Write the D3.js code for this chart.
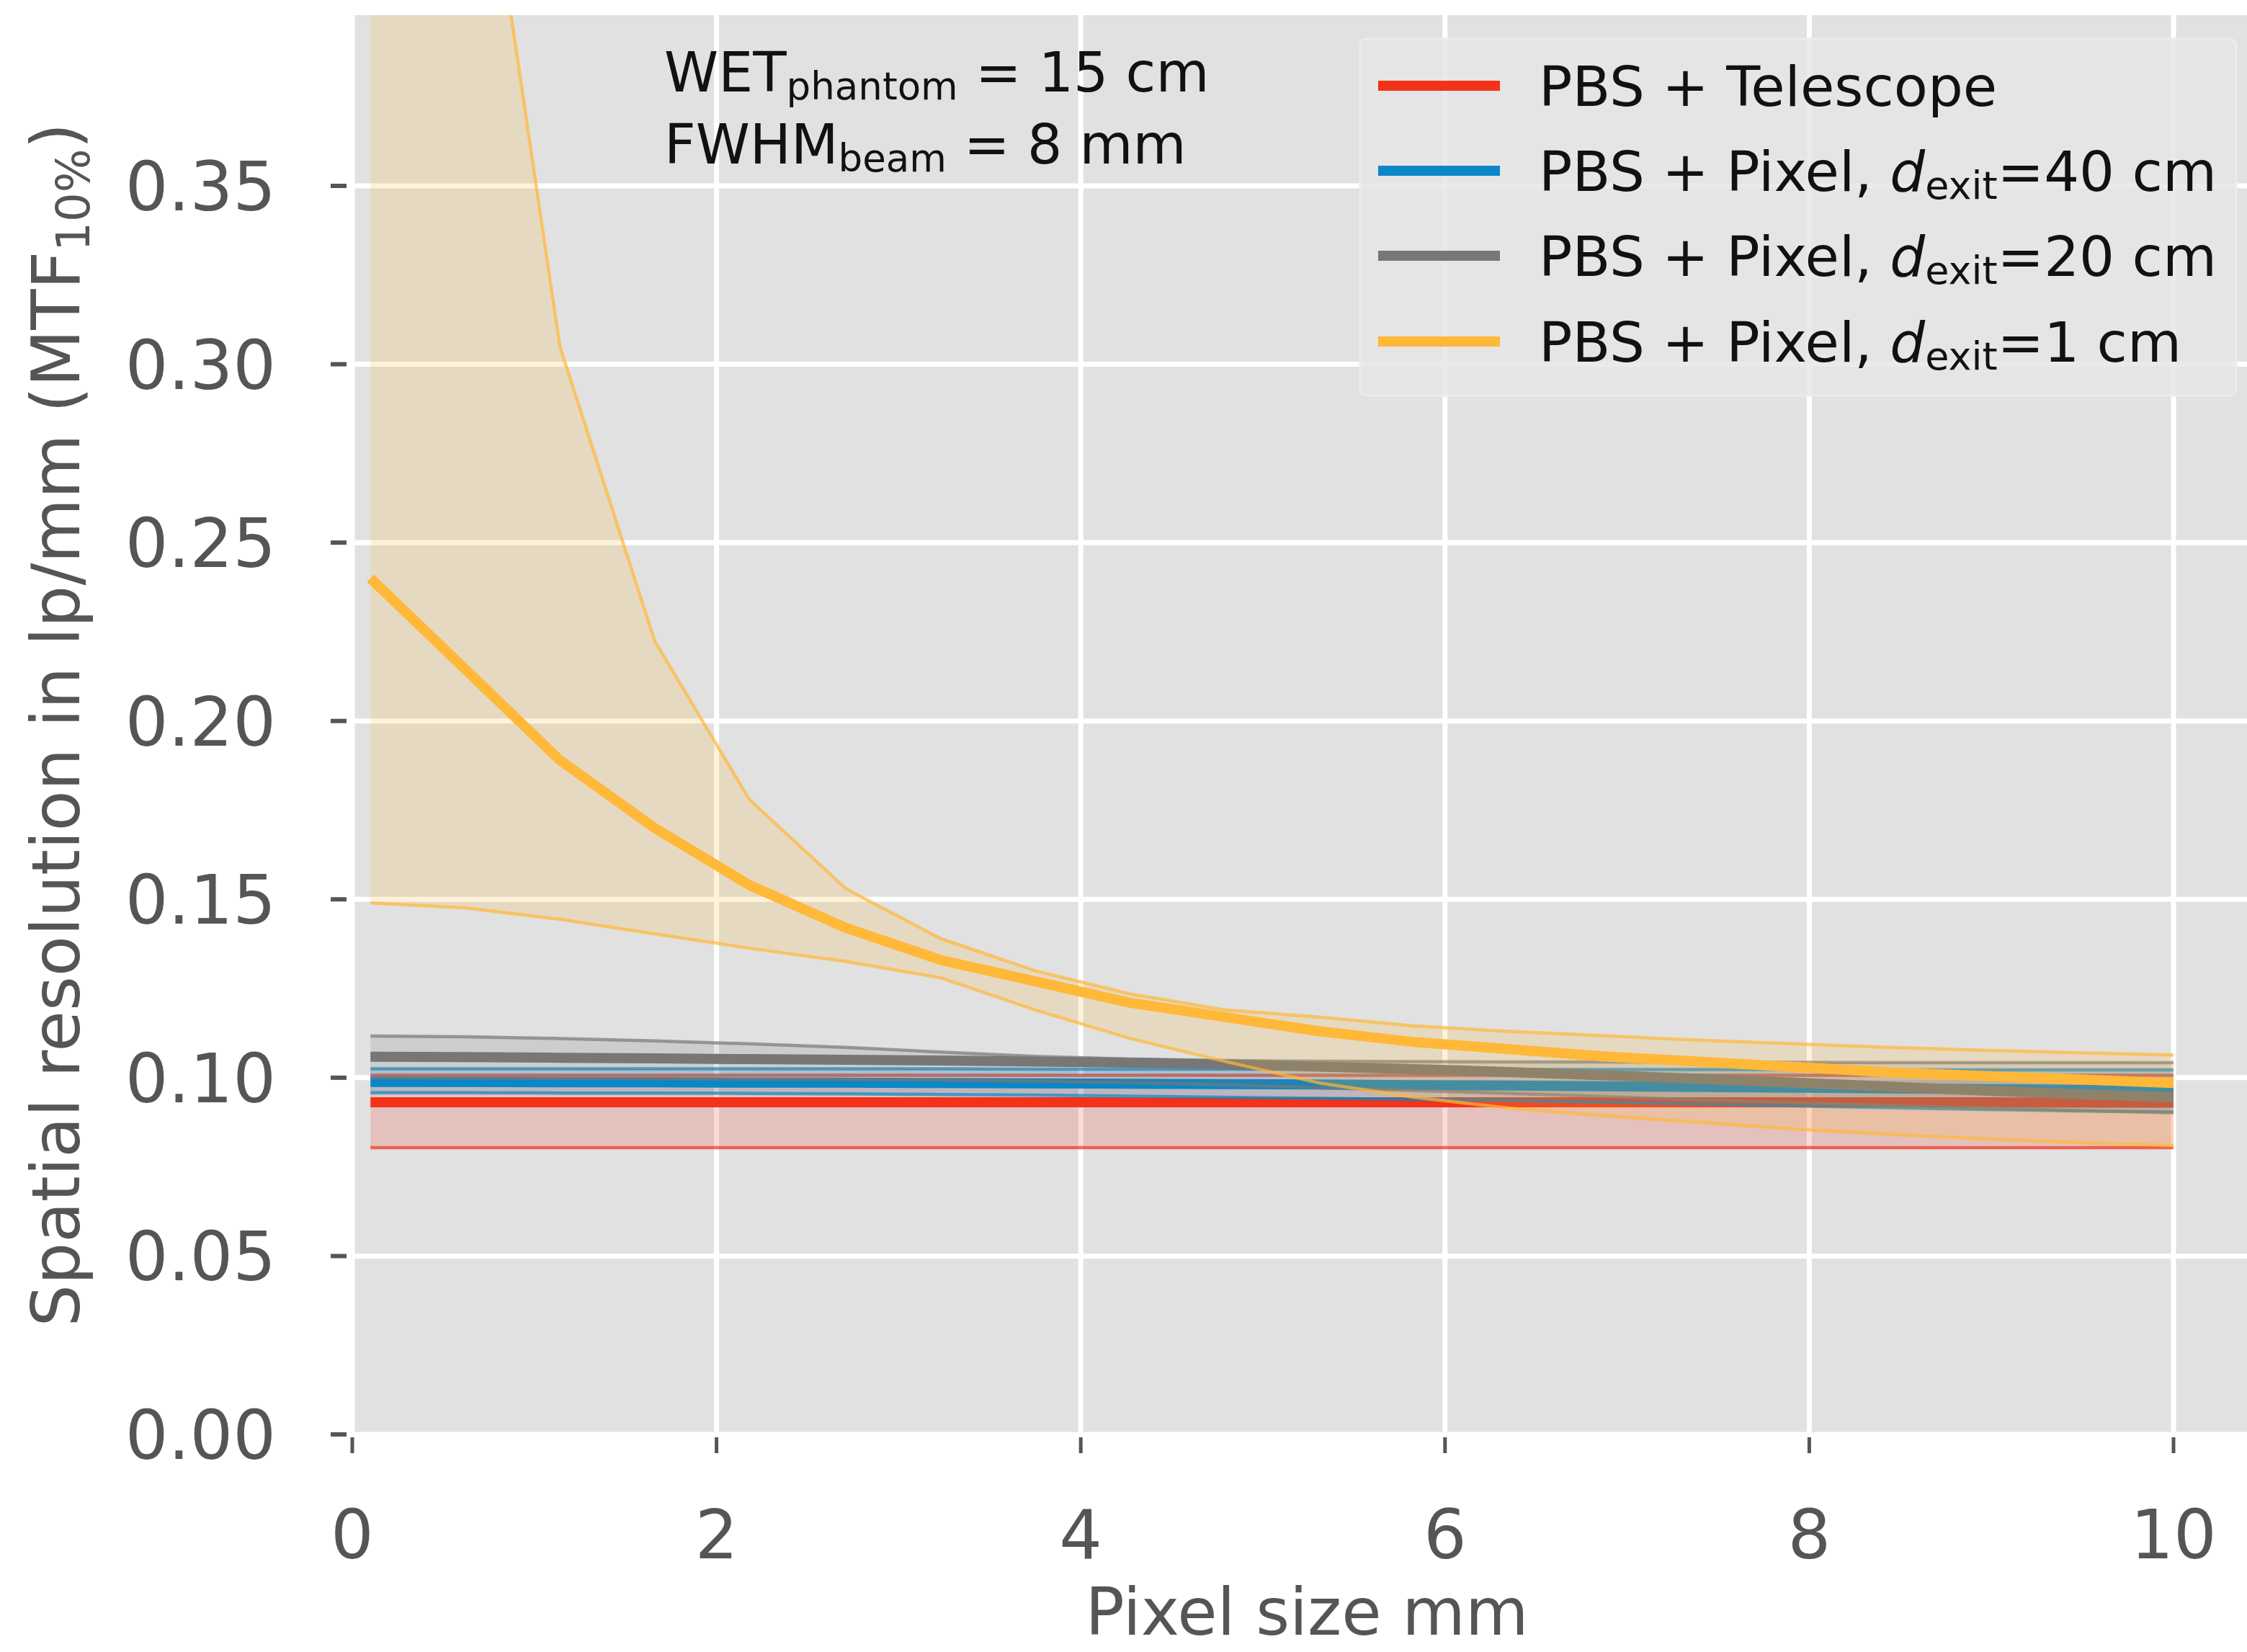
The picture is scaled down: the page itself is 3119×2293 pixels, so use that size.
<!DOCTYPE html>
<html>
<head>
<meta charset="utf-8">
<script src="https://cdn.jsdelivr.net/npm/d3@7"></script>
<style>
  html, body { margin: 0; padding: 0; background: #ffffff; }
  svg { display: block; }
  text { font-family: "DejaVu Sans", sans-serif; }
</style>
</head>
<body>
<script>
// ---------------- data ----------------
const pixelSize = [0.1, 0.62, 1.14, 1.66, 2.18, 2.71, 3.23, 3.75, 4.27, 4.79,
                   5.31, 5.83, 6.35, 6.87, 7.39, 7.92, 8.44, 8.96, 9.48, 10.0];

// PBS + Telescope
const telescopeMean = [0.0931, 0.0931, 0.0931, 0.0931, 0.0931, 0.0931, 0.0931, 0.0931, 0.0931, 0.0931,
                       0.0931, 0.0931, 0.0931, 0.0931, 0.0931, 0.0931, 0.0931, 0.0931, 0.0930, 0.0930];
const telescopeLow  = [0.0804, 0.0804, 0.0804, 0.0804, 0.0804, 0.0804, 0.0804, 0.0804, 0.0804, 0.0804,
                       0.0804, 0.0804, 0.0804, 0.0804, 0.0804, 0.0804, 0.0804, 0.0804, 0.0804, 0.0804];
const telescopeHigh = [0.1007, 0.1007, 0.1007, 0.1007, 0.1007, 0.1007, 0.1007, 0.1007, 0.1007, 0.1007,
                       0.1007, 0.1007, 0.1007, 0.1007, 0.1007, 0.1007, 0.1007, 0.1007, 0.1007, 0.1007];

// PBS + Pixel, d_exit = 40 cm
const pixel40Mean = [0.0988, 0.0988, 0.0987, 0.0987, 0.0986, 0.0986, 0.0985, 0.0984, 0.0983, 0.0982,
                     0.0981, 0.0979, 0.0978, 0.0976, 0.0974, 0.0972, 0.0970, 0.0968, 0.0966, 0.0965];
const pixel40Low  = [0.0958, 0.0958, 0.0957, 0.0957, 0.0956, 0.0955, 0.0953, 0.0951, 0.0948, 0.0945,
                     0.0942, 0.0939, 0.0936, 0.0931, 0.0926, 0.0921, 0.0916, 0.0911, 0.0907, 0.0904];
const pixel40High = [0.1025, 0.1025, 0.1025, 0.1025, 0.1025, 0.1025, 0.1025, 0.1024, 0.1024, 0.1024,
                     0.1024, 0.1024, 0.1023, 0.1023, 0.1023, 0.1023, 0.1022, 0.1022, 0.1022, 0.1022];

// PBS + Pixel, d_exit = 20 cm
const pixel20Mean = [0.1059, 0.1058, 0.1056, 0.1054, 0.1052, 0.1050, 0.1048, 0.1045, 0.1042, 0.1037,
                     0.1031, 0.1024, 0.1016, 0.1007, 0.0997, 0.0986, 0.0975, 0.0964, 0.0954, 0.0945];
const pixel20Low  = [0.1000, 0.0999, 0.0998, 0.0997, 0.0996, 0.0995, 0.0993, 0.0990, 0.0986, 0.0980,
                     0.0972, 0.0964, 0.0956, 0.0947, 0.0938, 0.0930, 0.0922, 0.0915, 0.0908, 0.0902];
const pixel20High = [0.1117, 0.1115, 0.1110, 0.1103, 0.1095, 0.1085, 0.1072, 0.1060, 0.1052, 0.1048,
                     0.1046, 0.1045, 0.1044, 0.1044, 0.1043, 0.1043, 0.1042, 0.1042, 0.1042, 0.1042];

// PBS + Pixel, d_exit = 1 cm
const pixel1Mean = [0.240, 0.2145, 0.189, 0.170, 0.154, 0.142, 0.133, 0.127, 0.121, 0.117,
                    0.113, 0.110, 0.108, 0.106, 0.1045, 0.103, 0.1015, 0.1005, 0.0995, 0.0985];
const pixel1Low  = [0.149, 0.1476, 0.1444, 0.1403, 0.1363, 0.1326, 0.128, 0.119, 0.111, 0.1046,
                    0.0985, 0.0945, 0.0915, 0.0893, 0.0875, 0.0856, 0.0841, 0.0828, 0.0818, 0.0810];
const pixel1High = [0.95, 0.485, 0.305, 0.2225, 0.178, 0.153, 0.139, 0.130, 0.1235, 0.119,
                    0.117, 0.1145, 0.1130, 0.1118, 0.1105, 0.1095, 0.1085, 0.1077, 0.1070, 0.1064];

const xTicks = [0, 2, 4, 6, 8, 10];
const yTicks = [0.00, 0.05, 0.10, 0.15, 0.20, 0.25, 0.30, 0.35];
const seriesColors = ["#f23219", "#0a87c6", "#777777", "#ffb838"];

// ---------------- layout ----------------
const W = 3119, H = 2293;
const plotLeft = 489, plotTop = 21, plotBottom = 1991, plotRight = 3139;

const svg = d3.select("body").append("svg").attr("width", W).attr("height", H);

const x = d3.scaleLinear().domain([0, 10]).range([489, 3017]);
const y = d3.scaleLinear().domain([0, 0.35]).range([1991, 258]);

// background
svg.append("rect").attr("x", plotLeft).attr("y", plotTop)
  .attr("width", plotRight - plotLeft).attr("height", plotBottom - plotTop)
  .attr("fill", "#e1e1e1");

// grid
const grid = svg.append("g").attr("stroke", "#ffffff").attr("stroke-width", 7);
grid.selectAll("line.h").data(yTicks).join("line")
  .attr("x1", plotLeft).attr("x2", plotRight)
  .attr("y1", d => y(d)).attr("y2", d => y(d));
grid.selectAll("line.v").data(xTicks).join("line")
  .attr("x1", d => x(d)).attr("x2", d => x(d))
  .attr("y1", plotTop).attr("y2", plotBottom);

// clip
svg.append("clipPath").attr("id", "clip").append("rect")
  .attr("x", plotLeft).attr("y", plotTop)
  .attr("width", plotRight - plotLeft).attr("height", plotBottom - plotTop);
const plot = svg.append("g").attr("clip-path", "url(#clip)");

const series = [
  { mean: telescopeMean, low: telescopeLow, high: telescopeHigh },
  { mean: pixel40Mean, low: pixel40Low, high: pixel40High },
  { mean: pixel20Mean, low: pixel20Low, high: pixel20High },
  { mean: pixel1Mean, low: pixel1Low, high: pixel1High }
];

series.forEach((s, i) => {
  const col = seriesColors[i];
  const pts = pixelSize.map((px, k) => ({ x: px, m: s.mean[k], lo: s.low[k], hi: s.high[k] }));
  const area = d3.area().x(d => x(d.x)).y0(d => y(d.lo)).y1(d => y(d.hi));
  plot.append("path").datum(pts).attr("d", area)
    .attr("fill", col).attr("fill-opacity", 0.18);
  ["lo", "hi"].forEach(key => {
    plot.append("path").datum(pts)
      .attr("d", d3.line().x(d => x(d.x)).y(d => y(d[key])))
      .attr("fill", "none").attr("stroke", col).attr("stroke-width", 4.5)
      .attr("stroke-opacity", 0.7).attr("stroke-linejoin", "round");
  });
  plot.append("path").datum(pts)
    .attr("d", d3.line().x(d => x(d.x)).y(d => y(d.m)))
    .attr("fill", "none").attr("stroke", col).attr("stroke-width", 14)
    .attr("stroke-linejoin", "round");
});

// ticks
const tickCol = "#555555";
svg.append("g").selectAll("line").data(yTicks).join("line")
  .attr("x1", 459).attr("x2", 481)
  .attr("y1", d => y(d)).attr("y2", d => y(d))
  .attr("stroke", tickCol).attr("stroke-width", 6);
svg.append("g").selectAll("text").data(yTicks).join("text")
  .attr("x", 383).attr("y", d => y(d) + 34)
  .attr("text-anchor", "end").attr("font-size", 94).attr("fill", tickCol)
  .text(d => d3.format(".2f")(d));
svg.append("g").selectAll("line").data(xTicks).join("line")
  .attr("x1", d => x(d)).attr("x2", d => x(d))
  .attr("y1", 1995).attr("y2", 2017)
  .attr("stroke", tickCol).attr("stroke-width", 5);
svg.append("g").selectAll("text").data(xTicks).join("text")
  .attr("x", d => x(d)).attr("y", 2163)
  .attr("text-anchor", "middle").attr("font-size", 94).attr("fill", tickCol)
  .text(d => d);

// axis labels
svg.append("text").attr("x", 1814).attr("y", 2269)
  .attr("text-anchor", "middle").attr("font-size", 90).attr("fill", tickCol)
  .text("Pixel size mm");
const yl = svg.append("text")
  .attr("transform", "translate(110,1006) rotate(-90)")
  .attr("text-anchor", "middle").attr("font-size", 92).attr("fill", tickCol);
yl.append("tspan").text("Spatial resolution in lp/mm (MTF");
yl.append("tspan").attr("font-size", 64).attr("dy", 14).text("10%");
yl.append("tspan").attr("dy", -14).text(")");

// annotation
const ann = svg.append("g").attr("font-size", 76).attr("fill", "#111111");
const a1 = ann.append("text").attr("x", 922).attr("y", 127);
a1.append("tspan").text("WET");
a1.append("tspan").attr("font-size", 53).attr("dy", 11).text("phantom");
a1.append("tspan").attr("dy", -11).text(" = 15 cm");
const a2 = ann.append("text").attr("x", 922).attr("y", 227);
a2.append("tspan").text("FWHM");
a2.append("tspan").attr("font-size", 53).attr("dy", 11).text("beam");
a2.append("tspan").attr("dy", -11).text(" = 8 mm");

// legend
const lg = svg.append("g");
lg.append("rect").attr("x", 1888).attr("y", 54).attr("width", 1216).attr("height", 495)
  .attr("rx", 9).attr("fill", "#e5e5e5").attr("fill-opacity", 0.82)
  .attr("stroke", "#ececec").attr("stroke-width", 3);
const legendRows = [
  { pre: "PBS + Telescope" },
  { pre: "PBS + Pixel, ", d: "40" },
  { pre: "PBS + Pixel, ", d: "20" },
  { pre: "PBS + Pixel, ", d: "1" }
];
const rowY = [119, 237, 355, 474];
legendRows.forEach((r, i) => {
  lg.append("line").attr("x1", 1913).attr("x2", 2082)
    .attr("y1", rowY[i]).attr("y2", rowY[i])
    .attr("stroke", seriesColors[i]).attr("stroke-width", 14);
  const t = lg.append("text").attr("x", 2136).attr("y", rowY[i] + 28)
    .attr("font-size", 77).attr("fill", "#111111");
  t.append("tspan").text(r.pre);
  if (r.d) {
    t.append("tspan").attr("font-style", "italic").text("d");
    t.append("tspan").attr("font-size", 54).attr("dy", 11).text("exit");
    t.append("tspan").attr("dy", -11).text("=" + r.d + " cm");
  }
});
</script>
</body>
</html>
